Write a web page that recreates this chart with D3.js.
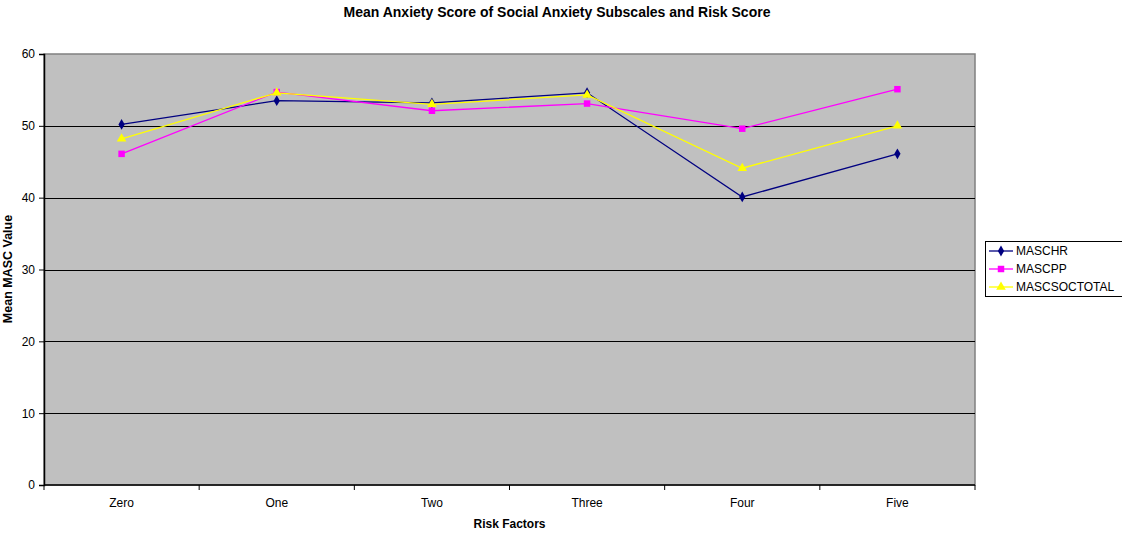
<!DOCTYPE html>
<html>
<head>
<meta charset="utf-8">
<script src="https://cdn.jsdelivr.net/npm/d3@7"></script>
<style>
  body { margin: 0; background: #fff; }
  svg { font-family: "Liberation Sans", Arial, sans-serif; }
</style>
</head>
<body>
<svg width="1122" height="533"></svg>
<script>
// data
var categories = ['Zero', 'One', 'Two', 'Three', 'Four', 'Five'];
var maschr = [50.2, 53.5, 53.2, 54.6, 40.1, 46.1];
var mascpp = [46.1, 54.7, 52.1, 53.1, 49.6, 55.1];
var mascsoctotal = [48.2, 54.6, 53.0, 54.3, 44.1, 50.0];
var yTicks = [0, 10, 20, 30, 40, 50, 60];

var series = [
    {name: 'MASCHR', values: maschr, color: '#000080', symbol: d3.symbolDiamond, size: 34},
    {name: 'MASCPP', values: mascpp, color: '#FF00FF', symbol: d3.symbolSquare, size: 42},
    {name: 'MASCSOCTOTAL', values: mascsoctotal, color: '#FFFF00', symbol: d3.symbolTriangle, size: 40}
];

var margin = {top: 54, left: 44, right: 147, bottom: 48};
var svgWidth = 1122, svgHeight = 533;
var width = svgWidth - margin.left - margin.right;
var height = svgHeight - margin.top - margin.bottom;

var svg = d3.select('svg');

svg.append('text')
    .attr('x', 557)
    .attr('y', 17)
    .attr('text-anchor', 'middle')
    .attr('font-size', 14)
    .attr('font-weight', 'bold')
    .text('Mean Anxiety Score of Social Anxiety Subscales and Risk Score');

var g = svg.append('g')
    .attr('transform', 'translate(' + margin.left + ',' + margin.top + ')');

var x = d3.scaleBand()
    .domain(categories)
    .range([0, width]);

var y = d3.scaleLinear()
    .domain([0, 60])
    .range([height, 0]);

// plot area
g.append('rect')
    .attr('width', width)
    .attr('height', height)
    .attr('fill', '#C0C0C0')
    .attr('stroke', '#808080')
    .attr('stroke-width', 1.5);

// gridlines
g.selectAll('.grid')
    .data(yTicks.filter(function (d) { return d > 0 && d < 60; }))
    .enter()
    .append('line')
    .attr('x1', 0)
    .attr('x2', width)
    .attr('y1', function (d) { return Math.round(y(d)) + 0.5; })
    .attr('y2', function (d) { return Math.round(y(d)) + 0.5; })
    .attr('stroke', '#000')
    .attr('stroke-width', 1);

// y axis
var yAxis = g.append('g')
    .call(d3.axisLeft(y).tickValues(yTicks).tickSize(5).tickPadding(4));
yAxis.select('.domain').attr('stroke', '#000').attr('stroke-width', 1.5);
yAxis.selectAll('text').attr('font-size', 12).attr('font-family', 'Liberation Sans, Arial, sans-serif').attr('fill', '#000');

// x axis, ticks between categories
var xAxis = g.append('g')
    .attr('transform', 'translate(0,' + height + ')');
xAxis.append('line')
    .attr('x1', 0).attr('x2', width)
    .attr('stroke', '#000').attr('stroke-width', 1.5);
xAxis.selectAll('.tick')
    .data(categories.concat(['end']))
    .enter()
    .append('line')
    .attr('x1', function (d, i) { return i * x.step(); })
    .attr('x2', function (d, i) { return i * x.step(); })
    .attr('y1', 0)
    .attr('y2', 5)
    .attr('stroke', '#000');
xAxis.selectAll('.label')
    .data(categories)
    .enter()
    .append('text')
    .attr('x', function (d) { return x(d) + x.bandwidth() / 2; })
    .attr('y', 22)
    .attr('text-anchor', 'middle')
    .attr('font-size', 12)
    .text(function (d) { return d; });

// axis titles
svg.append('text')
    .attr('x', margin.left + width / 2)
    .attr('y', 528)
    .attr('text-anchor', 'middle')
    .attr('font-size', 12)
    .attr('font-weight', 'bold')
    .text('Risk Factors');

svg.append('text')
    .attr('transform', 'translate(12,269) rotate(-90)')
    .attr('text-anchor', 'middle')
    .attr('font-size', 12.5)
    .attr('font-weight', 'bold')
    .text('Mean MASC Value');

// lines
var line = d3.line()
    .x(function (d, i) { return x(categories[i]) + x.bandwidth() / 2; })
    .y(function (d) { return y(d); });

series.forEach(function (s) {
    g.append('path')
        .datum(s.values)
        .attr('fill', 'none')
        .attr('stroke', s.color)
        .attr('stroke-width', 1.3)
        .attr('d', line);
});

series.forEach(function (s) {
    g.selectAll('.pt')
        .data(s.values)
        .enter()
        .append('path')
        .attr('d', d3.symbol().type(s.symbol).size(s.size))
        .attr('fill', s.color)
        .attr('transform', function (d, i) {
            return 'translate(' + (x(categories[i]) + x.bandwidth() / 2) + ',' + y(d) + ')';
        });
});

// legend
var legend = svg.append('g')
    .attr('transform', 'translate(985,241)');
legend.append('rect')
    .attr('x', 0.5).attr('y', 0.5)
    .attr('width', 140).attr('height', 55)
    .attr('fill', '#fff')
    .attr('stroke', '#000');
var item = legend.selectAll('.item')
    .data(series)
    .enter()
    .append('g')
    .attr('transform', function (d, i) { return 'translate(4,' + (10 + i * 18) + ')'; });
item.append('line')
    .attr('x1', 0).attr('x2', 24)
    .attr('stroke', function (d) { return d.color; })
    .attr('stroke-width', 1.3);
item.append('path')
    .attr('transform', 'translate(12,0)')
    .attr('d', function (d) { return d3.symbol().type(d.symbol).size(d.size)(); })
    .attr('fill', function (d) { return d.color; });
item.append('text')
    .attr('x', 27)
    .attr('y', 4)
    .attr('font-size', 12)
    .text(function (d) { return d.name; });
</script>
</body>
</html>
